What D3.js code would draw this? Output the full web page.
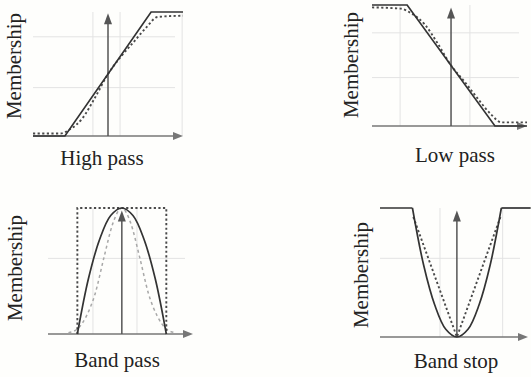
<!DOCTYPE html>
<html>
<head>
<meta charset="utf-8">
<script src="https://cdn.jsdelivr.net/npm/d3@7"></script>
<style>
  body { margin: 0; background: #fff; }
  svg { display: block; }
  .label { font-family: "Liberation Serif", "Times New Roman", serif; font-size: 21px; fill: #222; }
</style>
</head>
<body>
<div></div>
<script>
'use strict';

// High pass
var hpX = [-1.74, -1, 1, 1.74];
var hpSolid = [0, 0, 1, 1];
var hpDotX = [-1.74, -1.1, -0.9, -0.6, -0.3, 0, 0.3, 0.6, 0.9, 1.15, 1.74];
var hpDotY = [0.02, 0.02, 0.05, 0.14, 0.31, 0.5, 0.64, 0.76, 0.88, 0.96, 0.97];
var hpGridX = [-0.35, 0.28, 1.72];
var hpGridY = [0.39, 0.8];

// Low pass
var lpX = [-1.8, -1, 1, 1.73];
var lpSolid = [1, 1, 0, 0];
var lpDotX = [-1.8, -1.15, -0.9, -0.6, -0.3, 0, 0.3, 0.6, 0.9, 1.15, 1.73];
var lpDotY = [0.98, 0.97, 0.93, 0.84, 0.68, 0.5, 0.37, 0.23, 0.1, 0.03, 0.03];
var lpGridX = [-1.16, 0.43];
var lpGridY = [0.4, 0.77];

// Band pass
var bpX = [-1, -0.75, -0.5, -0.25, 0, 0.25, 0.5, 0.75, 1];
var bpSolid = [0, 0.44, 0.75, 0.94, 1, 0.94, 0.75, 0.44, 0];
var bpRectX = [-1, -1, 1, 1];
var bpRectY = [0, 1, 1, 0];
var bpBellX = [-1.2, -1, -0.8, -0.6, -0.4, -0.2, 0, 0.2, 0.4, 0.6, 0.8, 1, 1.2];
var bpBellY = [0.01, 0.04, 0.14, 0.32, 0.61, 0.88, 1, 0.88, 0.61, 0.32, 0.14, 0.04, 0.01];
var bpGridX = [-0.65, 0.34];
var bpGridY = [0.6];

// Band stop
var bsFlatX = [[-1.73, -1], [1, 1.66]];
var bsFlatY = [[1, 1], [1, 1]];
var bsX = [-1, -0.75, -0.5, -0.25, 0, 0.25, 0.5, 0.75, 1];
var bsSolid = [1, 0.56, 0.25, 0.06, 0, 0.06, 0.25, 0.56, 1];
var bsVX = [-0.98, 0, 0.98];
var bsVY = [0.93, 0, 0.93];
var bsGridX = [-0.38, 1.03];
var bsGridY = [0.61];

var titles = ["High pass", "Low pass", "Band pass", "Band stop"];
var yTitle = "Membership";

function zip(xs, ys) {
  return xs.map(function(x, i) { return {x: x, y: ys[i]}; });
}

var solidStyle = {stroke: "#333", width: 1.7, dash: null};
var dotStyle = {stroke: "#4a4a4a", width: 1.9, dash: "2.2,2.4"};
var lightStyle = {stroke: "#a8a8a8", width: 1.5, dash: "3,3"};

var panels = [
  {title: titles[0], xDomain: [-1.74, 1.74], xRange: [33, 183], yRange: [136, 12], yTip: 0.99,
   gridX: hpGridX, gridY: hpGridY, labelX: 21, labelY: 66, titleX: 102, titleY: 165,
   series: [
     {pts: zip(hpDotX, hpDotY), curve: d3.curveMonotoneX, style: dotStyle},
     {pts: zip(hpX, hpSolid), curve: d3.curveLinear, style: solidStyle}
   ]},
  {title: titles[1], xDomain: [-1.8, 1.73], xRange: [372, 527], yRange: [126, 5], yTip: 0.98,
   gridX: lpGridX, gridY: lpGridY, labelX: 358, labelY: 65, titleX: 455, titleY: 162,
   series: [
     {pts: zip(lpDotX, lpDotY), curve: d3.curveMonotoneX, style: dotStyle},
     {pts: zip(lpX, lpSolid), curve: d3.curveLinear, style: solidStyle}
   ]},
  {title: titles[2], xDomain: [-1.66, 1.6], xRange: [48, 193], yRange: [334, 208], yTip: 0.98,
   gridX: bpGridX, gridY: bpGridY, labelX: 22, labelY: 268, titleX: 117, titleY: 367,
   series: [
     {pts: zip(bpBellX, bpBellY), curve: d3.curveMonotoneX, style: lightStyle},
     {pts: zip(bpRectX, bpRectY), curve: d3.curveLinear, style: dotStyle},
     {pts: zip(bpX, bpSolid), curve: d3.curveCatmullRom, style: solidStyle}
   ]},
  {title: titles[3], xDomain: [-1.73, 1.6], xRange: [380, 528], yRange: [337, 208], yTip: 0.98,
   gridX: bsGridX, gridY: bsGridY, labelX: 368, labelY: 275, titleX: 456, titleY: 368,
   series: [
     {pts: zip(bsVX, bsVY), curve: d3.curveLinear, style: dotStyle},
     {pts: zip(bsFlatX[0], bsFlatY[0]), curve: d3.curveLinear, style: solidStyle},
     {pts: zip(bsFlatX[1], bsFlatY[1]), curve: d3.curveLinear, style: solidStyle},
     {pts: zip(bsX, bsSolid), curve: d3.curveCatmullRom, style: solidStyle}
   ]}
];

var svg = d3.select("body")
  .select("div")
  .append("svg")
    .attr("width", 531)
    .attr("height", 377);

svg.append("rect").attr("width", 531).attr("height", 377).attr("fill", "#fefefc");

panels.forEach(function(p) {
  var xScale = d3.scaleLinear().domain(p.xDomain).range(p.xRange);
  var yScale = d3.scaleLinear().domain([0, 1]).range(p.yRange);
  var g = svg.append("g");

  // faint scan grid
  g.selectAll("line.gx")
    .data(p.gridX)
    .enter().append("line")
      .attr("x1", function(d) { return xScale(d); })
      .attr("x2", function(d) { return xScale(d); })
      .attr("y1", yScale(0))
      .attr("y2", yScale(1))
      .attr("stroke", "#e3e3e3")
      .attr("stroke-width", 1);

  g.selectAll("line.gy")
    .data(p.gridY)
    .enter().append("line")
      .attr("x1", xScale(p.xDomain[0]))
      .attr("x2", xScale(p.xDomain[1]) - 8)
      .attr("y1", function(d) { return yScale(d); })
      .attr("y2", function(d) { return yScale(d); })
      .attr("stroke", "#e3e3e3")
      .attr("stroke-width", 1);

  // axes with arrows
  var x0 = xScale(0), y0 = yScale(0);
  var xEnd = xScale(p.xDomain[1]), yEnd = yScale(p.yTip);

  g.append("line")
    .attr("x1", xScale(p.xDomain[0])).attr("x2", xEnd - 6)
    .attr("y1", y0).attr("y2", y0)
    .attr("stroke", "#777").attr("stroke-width", 1.3);
  g.append("path")
    .attr("d", "M" + xEnd + "," + y0 + "L" + (xEnd - 10) + "," + (y0 - 4) + "L" + (xEnd - 10) + "," + (y0 + 4) + "Z")
    .attr("fill", "#777");

  g.append("line")
    .attr("x1", x0).attr("x2", x0)
    .attr("y1", y0).attr("y2", yEnd + 6)
    .attr("stroke", "#555").attr("stroke-width", 1.5);
  g.append("path")
    .attr("d", "M" + x0 + "," + yEnd + "L" + (x0 - 4) + "," + (yEnd + 11) + "L" + (x0 + 4) + "," + (yEnd + 11) + "Z")
    .attr("fill", "#555");

  // curves
  p.series.forEach(function(s) {
    var line = d3.line()
      .x(function(d) { return xScale(d.x); })
      .y(function(d) { return yScale(d.y); })
      .curve(s.curve);
    g.append("path")
      .datum(s.pts)
      .attr("fill", "none")
      .attr("stroke", s.style.stroke)
      .attr("stroke-width", s.style.width)
      .attr("stroke-dasharray", s.style.dash)
      .attr("d", line);
  });

  // labels
  g.append("text")
    .attr("class", "label")
    .attr("transform", "translate(" + p.labelX + "," + p.labelY + ") rotate(-90)")
    .attr("text-anchor", "middle")
    .text(yTitle);

  g.append("text")
    .attr("class", "label")
    .attr("x", p.titleX)
    .attr("y", p.titleY)
    .attr("text-anchor", "middle")
    .text(p.title);
});
</script>
</body>
</html>
